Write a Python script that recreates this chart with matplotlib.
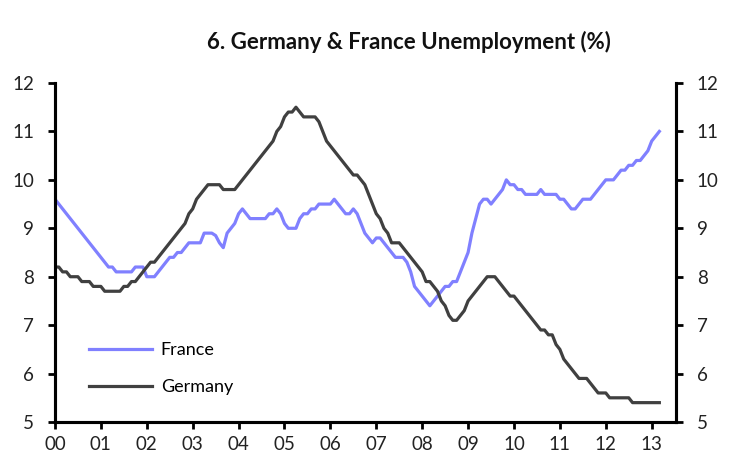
import numpy as np
import matplotlib
matplotlib.use("Agg")
import matplotlib.pyplot as plt

# monthly unemployment rate (%), Jan 2000 onwards
france = [
    9.6, 9.5, 9.4, 9.3, 9.2, 9.1, 9.0, 8.9, 8.8, 8.7, 8.6, 8.5,
    8.4, 8.3, 8.2, 8.2, 8.1, 8.1, 8.1, 8.1, 8.1, 8.2, 8.2, 8.2,
    8.0, 8.0, 8.0, 8.1, 8.2, 8.3, 8.4, 8.4, 8.5, 8.5, 8.6, 8.7,
    8.7, 8.7, 8.7, 8.9, 8.9, 8.9, 8.85, 8.7, 8.6, 8.9, 9.0, 9.1,
    9.3, 9.4, 9.3, 9.2, 9.2, 9.2, 9.2, 9.2, 9.3, 9.3, 9.4, 9.3,
    9.1, 9.0, 9.0, 9.0, 9.2, 9.3, 9.3, 9.4, 9.4, 9.5, 9.5, 9.5,
    9.5, 9.6, 9.5, 9.4, 9.3, 9.3, 9.4, 9.3, 9.1, 8.9, 8.8, 8.7,
    8.8, 8.8, 8.7, 8.6, 8.5, 8.4, 8.4, 8.4, 8.3, 8.1, 7.8, 7.7,
    7.6, 7.5, 7.4, 7.5, 7.6, 7.7, 7.8, 7.8, 7.9, 7.9, 8.1, 8.3,
    8.5, 8.9, 9.2, 9.5, 9.6, 9.6, 9.5, 9.6, 9.7, 9.8, 10.0, 9.9,
    9.9, 9.8, 9.8, 9.7, 9.7, 9.7, 9.7, 9.8, 9.7, 9.7, 9.7, 9.7,
    9.6, 9.6, 9.5, 9.4, 9.4, 9.5, 9.6, 9.6, 9.6, 9.7, 9.8, 9.9,
    10.0, 10.0, 10.0, 10.1, 10.2, 10.2, 10.3, 10.3, 10.4, 10.4, 10.5, 10.6,
    10.8, 10.9, 11.0,
]
germany = [
    8.2, 8.2, 8.1, 8.1, 8.0, 8.0, 8.0, 7.9, 7.9, 7.9, 7.8, 7.8,
    7.8, 7.7, 7.7, 7.7, 7.7, 7.7, 7.8, 7.8, 7.9, 7.9, 8.0, 8.1,
    8.2, 8.3, 8.3, 8.4, 8.5, 8.6, 8.7, 8.8, 8.9, 9.0, 9.1, 9.3,
    9.4, 9.6, 9.7, 9.8, 9.9, 9.9, 9.9, 9.9, 9.8, 9.8, 9.8, 9.8,
    9.9, 10.0, 10.1, 10.2, 10.3, 10.4, 10.5, 10.6, 10.7, 10.8, 11.0, 11.1,
    11.3, 11.4, 11.4, 11.5, 11.4, 11.3, 11.3, 11.3, 11.3, 11.2, 11.0, 10.8,
    10.7, 10.6, 10.5, 10.4, 10.3, 10.2, 10.1, 10.1, 10.0, 9.9, 9.7, 9.5,
    9.3, 9.2, 9.0, 8.9, 8.7, 8.7, 8.7, 8.6, 8.5, 8.4, 8.3, 8.2,
    8.1, 7.9, 7.9, 7.8, 7.7, 7.5, 7.4, 7.2, 7.1, 7.1, 7.2, 7.3,
    7.5, 7.6, 7.7, 7.8, 7.9, 8.0, 8.0, 8.0, 7.9, 7.8, 7.7, 7.6,
    7.6, 7.5, 7.4, 7.3, 7.2, 7.1, 7.0, 6.9, 6.9, 6.8, 6.8, 6.6,
    6.5, 6.3, 6.2, 6.1, 6.0, 5.9, 5.9, 5.9, 5.8, 5.7, 5.6, 5.6,
    5.6, 5.5, 5.5, 5.5, 5.5, 5.5, 5.5, 5.4, 5.4, 5.4, 5.4, 5.4,
    5.4, 5.4, 5.4,
]
year_ticks = list(range(2000, 2014))
year_labels = ["%02d" % (y % 100) for y in year_ticks]

t = 2000 + np.arange(len(france)) / 12.0

plt.rcParams["font.family"] = ["Lato", "DejaVu Sans"]

fig = plt.figure(figsize=(7.36, 4.71), dpi=100)
ax = fig.add_axes([0.0747, 0.104, 0.8438, 0.7198])

ax.plot(t, france, color="#8080ff", lw=2.3, label="France")
ax.plot(t, germany, color="#404040", lw=2.3, label="Germany")

ax.set_xlim(2000, 2013.53)
ax.set_ylim(5, 12)
ax.set_xticks(year_ticks)
ax.set_xticklabels(year_labels)
ax.set_yticks(range(5, 13))

ax2 = ax.twinx()
ax2.set_ylim(5, 12)
ax2.set_yticks(range(5, 13))

for a in (ax, ax2):
    a.spines["top"].set_visible(False)
    for s in ("left", "right", "bottom"):
        a.spines[s].set_linewidth(2.2)
    a.tick_params(axis="both", direction="out", length=5, width=2,
                  labelsize=13.5, colors="black", labelcolor="#222222")
ax.tick_params(axis="y", pad=10)
ax2.tick_params(axis="y", pad=10)
ax.tick_params(axis="x", pad=5)

ax.legend(loc="center left", bbox_to_anchor=(0.054, 0.157), frameon=False,
          fontsize=13, handlelength=3.5, handletextpad=0.5,
          labelspacing=1.15, borderpad=0, borderaxespad=0)

fig.text(0.555, 0.91, "6. Germany & France Unemployment (%)", ha="center",
         va="center", fontsize=16, fontweight="bold", color="#111111")

fig.savefig("out.png", dpi=100)
